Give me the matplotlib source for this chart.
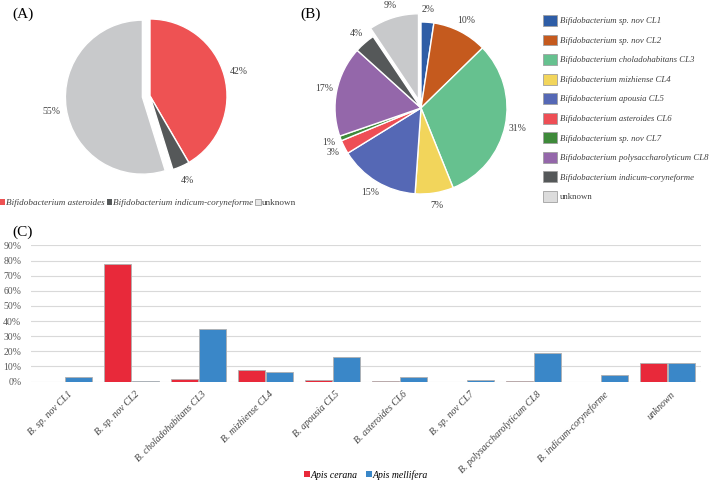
import numpy as np
import matplotlib
matplotlib.use("Agg")
import matplotlib.pyplot as plt
from matplotlib.patches import Patch

plt.rcParams['font.family'] = ['Liberation Serif', 'DejaVu Serif']

# panel A
a_labels = ['Bifidobacterium asteroides', 'Bifidobacterium indicum-coryneforme', 'unknown']
a_values = [41.6, 3.6, 54.8]
a_colors = ['#EE5253', '#555859', '#C8C9CB']

# panel B
b_labels = ['Bifidobacterium sp. nov CL1', 'Bifidobacterium sp. nov CL2',
            'Bifidobacterium choladohabitans CL3', 'Bifidobacterium mizhiense CL4',
            'Bifidobacterium apousia CL5', 'Bifidobacterium asteroides CL6',
            'Bifidobacterium sp. nov CL7', 'Bifidobacterium polysaccharolyticum CL8',
            'Bifidobacterium indicum-coryneforme', 'unknown']
b_values = [2.4, 10.3, 31.2, 7.2, 15.1, 2.6, 0.9, 17.0, 3.9, 9.4]
b_colors = ['#2E5DA6', '#C55A1E', '#66C18F', '#F2D55B', '#5568B5',
            '#EE4E55', '#3E8A3A', '#9467AA', '#555859', '#C8C9CB']

# panel C
c_cats = ['B. sp. nov CL1', 'B. sp. nov CL2', 'B. choladohabitans CL3', 'B. mizhiense CL4',
          'B. apousia CL5', 'B. asteroides CL6', 'B. sp. nov CL7',
          'B. polysaccharolyticum CL8', 'B. indicum-coryneforme', 'unknown']
cerana = [0.0, 77.5, 1.5, 7.3, 1.0, 0.2, 0.0, 0.5, 0.0, 12.4]
mellifera = [2.7, 0.2, 34.5, 6.6, 16.5, 3.1, 1.2, 18.7, 4.1, 12.0]
c_series = ['Apis cerana', 'Apis mellifera']
c_colors = ['#E8293A', '#3A87C8']

W, H = 709, 482
fig = plt.figure(figsize=(W / 100, H / 100), dpi=100)

def px_axes(cx, cy, half):
    # square axes centered at pixel (cx, cy) from top-left
    return fig.add_axes([(cx - half) / W, (H - cy - half) / H, 2 * half / W, 2 * half / H])

wp = dict(edgecolor='white', linewidth=1)

# ---- (A)
r_a = 77
axA = px_axes(150, 96, 1.3 * r_a)
axA.pie(a_values, colors=a_colors, startangle=90, counterclock=False,
        explode=[0, 0, 0.1], autopct='%1.0f%%', pctdistance=1.2,
        wedgeprops=wp, textprops=dict(fontsize=7, color='#404040'))
axA.set_xlim(-1.3, 1.3); axA.set_ylim(-1.3, 1.3)
axA.axis('off')

# ---- (B)
r_b = 86
axB = px_axes(421, 108, 1.3 * r_b)
axB.pie(b_values, colors=b_colors, startangle=90, counterclock=False,
        explode=[0] * 9 + [0.1], autopct='%1.0f%%', pctdistance=1.15,
        wedgeprops=wp, textprops=dict(fontsize=7, color='#404040'))
axB.set_xlim(-1.3, 1.3); axB.set_ylim(-1.3, 1.3)
axB.axis('off')

fig.text(12 / W, 1 - 18 / H, '(A)', fontsize=11)
fig.text(300 / W, 1 - 18 / H, '(B)', fontsize=11)
fig.text(12 / W, 1 - 236 / H, '(C)', fontsize=11)

# legend A
hA = [Patch(facecolor=c, edgecolor='none') for c in a_colors[:2]] + \
     [Patch(facecolor='#E7E7E7', edgecolor='#A0A0A0', linewidth=0.6)]
legA = fig.legend(hA, a_labels, loc='upper left', bbox_to_anchor=(-2 / W, 1 - 197 / H),
                  ncol=3, frameon=False, fontsize=6.6, handlelength=0.6, handleheight=0.6,
                  handletextpad=0.1, columnspacing=0.2, borderaxespad=0, borderpad=0.2)
for t, lab in zip(legA.get_texts(), a_labels):
    t.set_style('normal' if lab == 'unknown' else 'italic')
    t.set_color('#404040')

# legend B
hB = [Patch(facecolor=c, edgecolor='#A0A0A0', linewidth=0.6) for c in b_colors[:-1]] + \
     [Patch(facecolor='#DCDCDC', edgecolor='#A0A0A0', linewidth=0.6)]
legB = fig.legend(hB, b_labels, loc='upper left', bbox_to_anchor=(543 / W, 1 - 15 / H),
                  frameon=False, fontsize=6.3, handlelength=1.65, handleheight=1.55,
                  handletextpad=0.25, labelspacing=0.98, borderaxespad=0, borderpad=0)
for t, lab in zip(legB.get_texts(), b_labels):
    t.set_style('normal' if lab == 'unknown' else 'italic')
    t.set_color('#404040')

# ---- (C)
axC = fig.add_axes([31 / W, (H - 381.5) / H, 670 / W, 136 / H])
x = np.arange(len(c_cats))
bw = 0.4
bars_c = axC.bar(x - 0.21, cerana, bw, color=c_colors[0], edgecolor='#B0B0B0', linewidth=0.6,
                 zorder=3)
bars_m = axC.bar(x + 0.21, mellifera, bw, color=c_colors[1], edgecolor='#B0B0B0', linewidth=0.6,
                 zorder=3)
for b, v in list(zip(bars_c, cerana)) + list(zip(bars_m, mellifera)):
    if v == 0:
        b.set_visible(False)
axC.set_xlim(-0.5, len(c_cats) - 0.5)
axC.set_ylim(0, 90)
axC.set_yticks(np.arange(0, 91, 10))
axC.set_yticklabels(['%d%%' % v for v in range(0, 91, 10)], fontsize=7, color='#595959')
axC.yaxis.grid(True, color='#D9D9D9', linewidth=0.8, zorder=0)
axC.set_axisbelow(True)
for s in axC.spines.values():
    s.set_visible(False)
axC.tick_params(axis='both', length=0)
axC.tick_params(axis='y', pad=7)
axC.set_xticks(x + 0.04)
axC.set_xticklabels(c_cats, rotation=45, ha='right', rotation_mode='anchor',
                    fontsize=7, style='italic', color='#404040')
axC.tick_params(axis='x', pad=6)

hC = [Patch(facecolor=c, edgecolor='none') for c in c_colors]
axC.legend(hC, c_series, loc='upper center', bbox_to_anchor=(0.5, -(476 - 381.5 - 6) / 136),
           ncol=2, frameon=False, handlelength=0.6, handleheight=0.6,
           handletextpad=0.1, columnspacing=0.8, borderaxespad=0, borderpad=0,
           prop=dict(style='italic', size=7))

fig.savefig('out.png', dpi=100)
